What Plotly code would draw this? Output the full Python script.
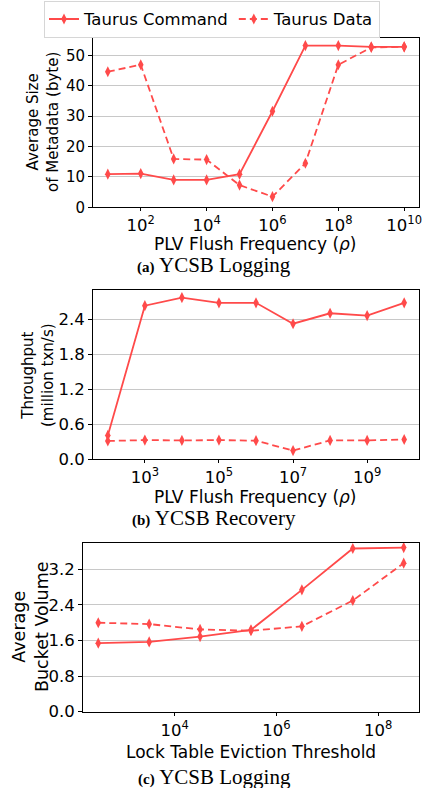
import plotly.graph_objects as go

# ---------------- data ----------------
series_names = ["Taurus Command", "Taurus Data"]

a_x = [1e1, 1e2, 1e3, 1e4, 1e5, 1e6, 1e7, 1e8, 1e9, 1e10]
a_command = [10.9, 11.1, 9.0, 9.0, 10.9, 31.6, 53.2, 53.2, 52.8, 52.8]
a_data = [44.6, 46.9, 15.9, 15.7, 7.3, 3.5, 14.5, 46.9, 52.6, 52.8]

b_x = [1e2, 1e3, 1e4, 1e5, 1e6, 1e7, 1e8, 1e9, 1e10]
b_command = [0.41, 2.64, 2.78, 2.69, 2.69, 2.33, 2.51, 2.47, 2.69]
b_data = [0.315, 0.33, 0.325, 0.33, 0.32, 0.15, 0.325, 0.325, 0.34]

c_x = [3.16e2, 3.16e3, 3.16e4, 3.16e5, 3.16e6, 3.16e7, 3.16e8]
c_command = [1.54, 1.57, 1.69, 1.84, 2.74, 3.67, 3.69]
c_data = [2.00, 1.97, 1.85, 1.82, 1.92, 2.50, 3.34]

a_ticks = [1e2, 1e4, 1e6, 1e8, 1e10]
a_ticktext = ["10<sup>2</sup>", "10<sup>4</sup>", "10<sup>6</sup>", "10<sup>8</sup>", "10<sup>10</sup>"]
b_ticks = [1e3, 1e5, 1e7, 1e9]
b_ticktext = ["10<sup>3</sup>", "10<sup>5</sup>", "10<sup>7</sup>", "10<sup>9</sup>"]
c_ticks = [1e4, 1e6, 1e8]
c_ticktext = ["10<sup>4</sup>", "10<sup>6</sup>", "10<sup>8</sup>"]

a_yticks = [0, 10, 20, 30, 40, 50]
b_yticks = [0.0, 0.6, 1.2, 1.8, 2.4]
b_yticktext = ["0.0", "0.6", "1.2", "1.8", "2.4"]
c_yticks = [0.0, 0.8, 1.6, 2.4, 3.2]
c_yticktext = ["0.0", "0.8", "1.6", "2.4", "3.2"]

x_titles = ["PLV Flush Frequency (<i>ρ</i>)", "PLV Flush Frequency (<i>ρ</i>)",
            "Lock Table Eviction Threshold"]
y_titles = ["Average Size<br>of Metadata (byte)", "Throughput<br>(million txn/s)",
            "Average<br>Bucket Volume"]
captions = [("(a)", "YCSB Logging"), ("(b)", "YCSB Recovery"), ("(c)", "YCSB Logging")]

# ---------------- style ----------------
RED = "#ff4a4a"
FONT = "DejaVu Sans"
W, H = 428, 788


def px_x(p):
    return p / W


def px_y(p):
    return 1 - p / H


fig = go.Figure()

panels = [
    ("x", "y", a_x, a_command, a_data),
    ("x2", "y2", b_x, b_command, b_data),
    ("x3", "y3", c_x, c_command, c_data),
]
for i, (xa, ya, xs, cmd, dat) in enumerate(panels):
    fig.add_trace(go.Scatter(
        x=xs, y=cmd, xaxis=xa, yaxis=ya, name=series_names[0],
        mode="lines+markers", legendgroup="cmd", showlegend=(i == 0),
        line=dict(color=RED, width=1.8),
        marker=dict(symbol="diamond-tall", size=8, color=RED),
    ))
    fig.add_trace(go.Scatter(
        x=xs, y=dat, xaxis=xa, yaxis=ya, name=series_names[1],
        mode="lines+markers", legendgroup="dat", showlegend=(i == 0),
        line=dict(color=RED, width=1.8, dash="7px,4px"),
        marker=dict(symbol="diamond-tall", size=8, color=RED),
    ))

axis_common = dict(
    showline=True, linecolor="black", linewidth=1, mirror=True,
    ticks="outside", ticklen=4, tickcolor="black", tickwidth=1,
    zeroline=False, automargin=False,
)
xcommon = dict(axis_common, type="log", showgrid=False, ticklen=3,
               tickfont=dict(family=FONT, size=16.5, color="black"))
ycommon = dict(axis_common, showgrid=True, gridcolor="#c8c8c8", gridwidth=1,
               tickfont=dict(family=FONT, size=16.5, color="black"))

layout = dict(
    width=W, height=H,
    margin=dict(l=0, r=0, t=0, b=0),
    paper_bgcolor="white", plot_bgcolor="white",
    font=dict(family=FONT, size=16.5, color="black"),
    showlegend=True,
    legend=dict(
        orientation="h", x=px_x(44), xanchor="left", y=0.999, yanchor="top",
        bordercolor="#d6d6d6", borderwidth=1, bgcolor="white",
        font=dict(family=FONT, size=16.5, color="black"),
        itemwidth=30, tracegroupgap=0,
    ),
    xaxis=dict(xcommon, domain=[px_x(93), px_x(419)], range=[0.55, 10.45],
               tickvals=a_ticks, ticktext=a_ticktext, anchor="y"),
    yaxis=dict(ycommon, domain=[px_y(207.3), px_y(38)], range=[0, 55.7],
               tickvals=a_yticks, anchor="x",
               tickfont=dict(family=FONT, size=15, color="black")),
    xaxis2=dict(xcommon, domain=[px_x(93), px_x(419)], range=[1.6, 10.4],
                tickvals=b_ticks, ticktext=b_ticktext, anchor="y2"),
    yaxis2=dict(ycommon, domain=[px_y(459.3), px_y(290)], range=[0, 2.91],
                tickvals=b_yticks, ticktext=b_yticktext, anchor="x2"),
    xaxis3=dict(xcommon, domain=[px_x(83), px_x(419)], range=[2.2, 8.8],
                tickvals=c_ticks, ticktext=c_ticktext, anchor="y3"),
    yaxis3=dict(ycommon, domain=[px_y(711.7), px_y(542.7)], range=[0, 3.80],
                tickvals=c_yticks, ticktext=c_yticktext, anchor="x3"),
)
fig.update_layout(**layout)

# axis titles (x): centre of plot, below tick labels
x_title_pos = [(256, 244), (256, 497), (251, 752)]
for txt, (cx, cy) in zip(x_titles, x_title_pos):
    fig.add_annotation(xref="paper", yref="paper", x=px_x(cx), y=px_y(cy),
                       xanchor="center", yanchor="middle", showarrow=False,
                       text=txt, font=dict(family=FONT, size=17, color="black"))

# axis titles (y): rotated, two lines
y_title_pos = [(43, 122, 15), (38, 375, 15), (30, 627, 17.5)]
for txt, (cx, cy, fs) in zip(y_titles, y_title_pos):
    fig.add_annotation(xref="paper", yref="paper", x=px_x(cx), y=px_y(cy),
                       xanchor="center", yanchor="middle", showarrow=False,
                       textangle=-90, text=txt,
                       font=dict(family=FONT, size=fs, color="black"))

cap_y = [265, 518, 777]
for (tag, txt), ypx in zip(captions, cap_y):
    fig.add_annotation(
        xref="paper", yref="paper", x=0.5, y=px_y(ypx),
        xanchor="center", yanchor="middle", showarrow=False,
        text=f"<b><span style='font-size:15px'>{tag}</span></b> {txt}",
        font=dict(family="Liberation Serif", size=21, color="black"),
    )

fig.write_html(
    "out.html",
    config={"displayModeBar": False},
    post_script="document.body.style.margin='0';document.body.style.overflow='hidden';",
)
